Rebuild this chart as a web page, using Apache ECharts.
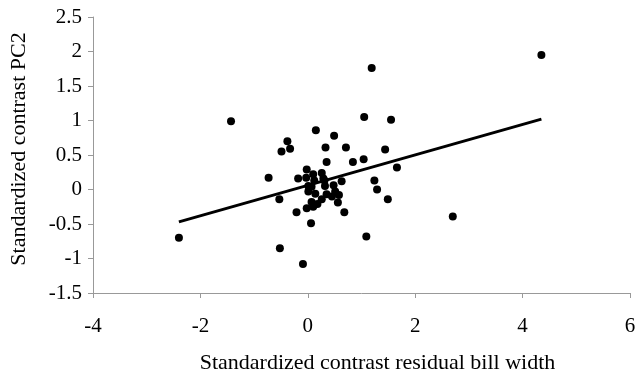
<!DOCTYPE html>
<html>
<head>
<meta charset="utf-8">
<script src="https://cdn.jsdelivr.net/npm/echarts@6/dist/echarts.min.js"></script>
<style>
  html, body { margin: 0; padding: 0; background: #fff; }
  #main { width: 639px; height: 379px; }
</style>
</head>
<body>
<div id="main"></div>
<script>
// points (x = residual bill width, y = PC2)
var pointsX = [4.35, 1.19, -1.43, 1.05, 1.55, 0.15, 0.49, -0.38, -0.33, -0.49, 0.33, 0.71,
  1.44, 1.04, 0.84, 0.35, 1.66, -0.02, -0.73, -0.18, 1.24, 1.29, 1.49, -0.53, -0.21, 0.68,
  2.70, 0.06, -2.40, 1.09, -0.52, -0.09,
  -0.03, 0.10, 0.26, 0.12, 0.29, 0.48, 0.63, 0.01, 0.01, 0.14, 0.32, 0.35, 0.51, 0.58, 0.45,
  0.07, 0.26, 0.18, -0.02, 0.10, 0.56, 0.31, 0.07];
var pointsY = [1.95, 1.76, 0.99, 1.05, 1.01, 0.86, 0.78, 0.70, 0.59, 0.55, 0.61, 0.61,
  0.58, 0.44, 0.40, 0.40, 0.32, 0.29, 0.17, 0.16, 0.13, 0.00, -0.14, -0.14, -0.33, -0.33,
  -0.39, -0.49, -0.70, -0.68, -0.85, -1.08,
  0.17, 0.22, 0.24, 0.13, 0.16, 0.06, 0.12, 0.05, -0.03, -0.06, 0.05, -0.07, -0.03, -0.08, -0.10,
  -0.18, -0.14, -0.21, -0.27, -0.25, -0.19, 0.13, 0.04];

// regression line end points
var fitX = [-2.40, 4.35];
var fitY = [-0.47, 1.02];

var xTicks = [-4, -2, 0, 2, 4, 6];
var yTicks = [-1.5, -1, -0.5, 0, 0.5, 1, 1.5, 2, 2.5];

var scatterData = pointsX.map(function (x, i) { return [x, pointsY[i]]; });
var fitData = fitX.map(function (x, i) { return [x, fitY[i]]; });

var font = 'Liberation Serif, Times New Roman, serif';
var axisGray = '#999999';

var chart = echarts.init(document.getElementById('main'), null, { renderer: 'canvas' });
chart.setOption({
  animation: false,
  backgroundColor: '#fff',
  grid: { left: 92, right: 9, top: 17, bottom: 84 },
  xAxis: {
    type: 'value',
    min: xTicks[0],
    max: xTicks[xTicks.length - 1],
    interval: 2,
    name: 'Standardized contrast residual bill width',
    nameLocation: 'middle',
    nameGap: 59,
    nameTextStyle: { fontFamily: font, fontSize: 22, color: '#000', padding: [0, 0, 0, 32] },
    axisLine: { onZero: false, lineStyle: { color: axisGray, width: 1 } },
    axisTick: { show: true, length: 5, lineStyle: { color: axisGray } },
    axisLabel: { fontFamily: font, fontSize: 21, color: '#000', margin: 23 },
    splitLine: { show: false }
  },
  yAxis: {
    type: 'value',
    min: yTicks[0],
    max: yTicks[yTicks.length - 1],
    interval: 0.5,
    name: 'Standardized contrast PC2',
    nameLocation: 'middle',
    nameGap: 63,
    nameTextStyle: { fontFamily: font, fontSize: 22, color: '#000', padding: [0, 0, 0, 12] },
    axisLine: { show: true, onZero: false, lineStyle: { color: axisGray, width: 1 } },
    axisTick: { show: true, length: 5, lineStyle: { color: axisGray } },
    axisLabel: { fontFamily: font, fontSize: 21, color: '#000', margin: 11 },
    splitLine: { show: false }
  },
  series: [
    {
      type: 'scatter',
      data: scatterData,
      symbol: 'circle',
      symbolSize: 8,
      itemStyle: { color: '#000', opacity: 1 }
    },
    {
      type: 'line',
      data: fitData,
      symbol: 'none',
      lineStyle: { color: '#000', width: 3 }
    }
  ]
});
</script>
</body>
</html>
